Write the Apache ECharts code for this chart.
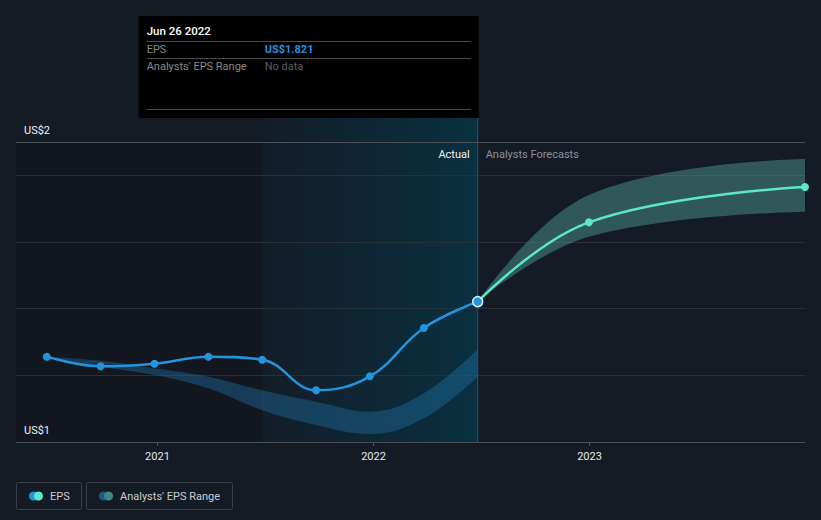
<!DOCTYPE html>
<html><head><meta charset="utf-8">
<script src="https://cdn.jsdelivr.net/npm/echarts@6/dist/echarts.min.js"></script>
<style>html,body{margin:0;padding:0;background:#151b25;}#c{width:821px;height:520px;}</style>
</head><body><div id="c"></div>
<script>
// ---- data ----
const epsDates = ['2020-06-28','2020-09-27','2020-12-27','2021-03-28','2021-06-27','2021-09-26','2021-12-26','2022-03-27','2022-06-26'];
const epsValues = [1.656,1.627,1.635,1.656,1.647,1.555,1.597,1.742,1.821];
const forecastDates = ['2022-06-26','2022-12-31','2023-12-31'];
const forecastValues = [1.821,2.059,2.165];
const pastRangeLow  = [1.656,1.626,1.601,1.561,1.495,1.451,1.424,1.471,1.596];
const pastRangeHigh = [1.656,1.644,1.621,1.596,1.555,1.521,1.491,1.546,1.679];
const forecastRangeLow  = [1.821,2.016,2.091];
const forecastRangeHigh = [1.821,2.141,2.249];
const yMin = 1.4, yMax = 2.3, yInterval = 0.2;
const yTickLabels = {min:'US$1', max:'US$2'};
const xMin = '2020-05-07', xMax = '2023-12-31';
const highlightStart = '2021-06-27';
const tooltipTitle = 'Jun 26 2022';
const legendNames = ['EPS', "Analysts' EPS Range"];

const FONT = 'Roboto, "Noto Sans", sans-serif';
const pair = (d, v) => d.map((x, i) => [x, v[i]]);
const diff = (d, hi, lo) => d.map((x, i) => [x, +(hi[i] - lo[i]).toFixed(4)]);

const chart = echarts.init(document.getElementById('c'), null, {renderer: 'svg'});
const option = {
  backgroundColor: '#151b25',
  animation: false,
  grid: {left: 16, right: 16, top: 142, bottom: 78, containLabel: false},
  xAxis: {
    type: 'time', min: xMin, max: xMax,
    minInterval: 365 * 24 * 3600 * 1000, splitNumber: 3,
    axisLine: {lineStyle: {color: '#4a4f58', width: 1}},
    axisTick: {show: true, length: 4, lineStyle: {color: '#4a4f58'}},
    splitLine: {show: false},
    axisLabel: {color: '#e8e8e8', fontFamily: FONT, fontSize: 11, margin: 9,
      formatter: (v) => String(new Date(v).getFullYear())}
  },
  yAxis: {
    type: 'value', min: yMin, max: yMax, interval: yInterval,
    axisLine: {show: false}, axisTick: {show: false},
    splitLine: {lineStyle: {color: ['#2a2f38','#2a2f38','#2a2f38','#2a2f38','#2a2f38','#4a4f58'], width: 1}},
    axisLabel: {inside: true, margin: 8, verticalAlign: 'bottom', padding: [0,0,6,0],
      color: '#f0f0f0', fontFamily: FONT, fontSize: 11,
      formatter: (v) => Math.abs(v - yMin) < 1e-9 ? yTickLabels.min : (Math.abs(v - yMax) < 1e-9 ? yTickLabels.max : '')}
  },
  series: [
    {name: 'pastLow', type: 'line', stack: 'past', data: pair(epsDates, pastRangeLow), smooth: 0.4,
      symbol: 'none', lineStyle: {width: 0, opacity: 0}, silent: true, z: 1},
    {name: 'pastBand', type: 'line', stack: 'past', data: diff(epsDates, pastRangeHigh, pastRangeLow), smooth: 0.4,
      symbol: 'none', lineStyle: {width: 0, opacity: 0}, areaStyle: {color: 'rgba(33,120,180,0.38)', opacity: 1}, silent: true, z: 1},
    {name: 'fcLow', type: 'line', stack: 'fc', data: pair(forecastDates, forecastRangeLow), smooth: 0.4,
      symbol: 'none', lineStyle: {width: 0, opacity: 0}, silent: true, z: 1},
    {name: 'fcBand', type: 'line', stack: 'fc', data: diff(forecastDates, forecastRangeHigh, forecastRangeLow), smooth: 0.4,
      symbol: 'none', lineStyle: {width: 0, opacity: 0}, areaStyle: {color: 'rgba(90,180,165,0.4)', opacity: 1}, silent: true, z: 1},
    {name: 'EPS forecast', type: 'line', data: forecastDates.map((d, i) => ({value: [d, forecastValues[i]], symbol: i === 0 ? 'none' : 'circle'})),
      smooth: 0.4, symbolSize: 8, showSymbol: true,
      lineStyle: {color: '#5de6cc', width: 2.5}, itemStyle: {color: '#5de6cc'}, z: 3},
    {name: 'EPS', type: 'line', data: epsDates.map((d, i) => {
        const it = {value: [d, epsValues[i]]};
        if (i === epsDates.length - 1) { it.symbolSize = 10; it.itemStyle = {color: '#2394df', borderColor: '#dff0ff', borderWidth: 1.5}; }
        return it; }),
      smooth: 0.4, symbol: 'circle', symbolSize: 8, showSymbol: true,
      lineStyle: {color: '#2394df', width: 2.5}, itemStyle: {color: '#2394df'}, z: 4}
  ]
};
chart.setOption(option);

// ---- overlays positioned via the chart's own scales ----
const px = (d) => chart.convertToPixel({xAxisIndex: 0}, d);
const py = (v) => chart.convertToPixel({yAxisIndex: 0}, v);
const gl = px(xMin), gr = px(xMax), yTop = py(yMax), yBot = py(yMin);
const xHS = px(highlightStart), xNow = px(epsDates[epsDates.length - 1]);
const tipRight = xNow + 1, tipLeft = tipRight - 340, tipTop = 16, tipBottom = 118;
const lastEps = epsValues[epsValues.length - 1];
const F11 = '11px ' + FONT;

const g = [
  {type: 'rect', silent: true, z: -5, shape: {x: gl, y: yTop, width: xHS - gl, height: yBot - yTop},
    style: {fill: 'rgba(0,0,0,0.12)'}},
  {type: 'rect', silent: true, z: -5, shape: {x: xHS, y: tipBottom, width: xNow - xHS, height: yBot - tipBottom},
    style: {fill: {type: 'linear', x: 0, y: 0, x2: 1, y2: 0, colorStops: [
      {offset: 0, color: 'rgba(7,48,64,0.12)'}, {offset: 1, color: 'rgba(7,52,70,0.85)'}]}}},
  {type: 'line', silent: true, z: 2, shape: {x1: xNow, y1: tipBottom, x2: xNow, y2: yBot},
    style: {stroke: '#1d5a72', lineWidth: 1}},
  {type: 'text', silent: true, z: 5, style: {x: xNow - 8, y: yTop + 12, text: 'Actual', align: 'right', verticalAlign: 'middle',
    fill: '#f2f2f2', font: F11}},
  {type: 'text', silent: true, z: 5, style: {x: xNow + 8, y: yTop + 12, text: 'Analysts Forecasts', align: 'left', verticalAlign: 'middle',
    fill: '#8a8e95', font: F11}},
  // tooltip box
  {type: 'rect', silent: true, z: 20, shape: {x: tipLeft, y: tipTop, width: tipRight - tipLeft, height: tipBottom - tipTop},
    style: {fill: '#000000'}},
  {type: 'text', silent: true, z: 21, style: {x: tipLeft + 8, y: 31, text: tooltipTitle, verticalAlign: 'middle', fill: '#ffffff', font: '500 11.5px ' + FONT}},
  {type: 'line', silent: true, z: 21, shape: {x1: tipLeft + 8, y1: 41.5, x2: tipRight - 8, y2: 41.5}, style: {stroke: '#4a4a4a', lineWidth: 1}},
  {type: 'text', silent: true, z: 21, style: {x: tipLeft + 8, y: 49, text: legendNames[0], verticalAlign: 'middle', fill: '#8a8a8a', font: F11}},
  {type: 'text', silent: true, z: 21, style: {x: tipLeft + 126, y: 49, text: 'US$' + lastEps.toFixed(3), verticalAlign: 'middle', fill: '#2394df', font: 'bold 11px ' + FONT}},
  {type: 'line', silent: true, z: 21, shape: {x1: tipLeft + 8, y1: 58.5, x2: tipRight - 8, y2: 58.5}, style: {stroke: '#4a4a4a', lineWidth: 1}},
  {type: 'text', silent: true, z: 21, style: {x: tipLeft + 8, y: 66, text: legendNames[1], verticalAlign: 'middle', fill: '#8a8a8a', font: F11}},
  {type: 'text', silent: true, z: 21, style: {x: tipLeft + 126, y: 66, text: 'No data', verticalAlign: 'middle', fill: '#5e5e5e', font: F11}},
  {type: 'line', silent: true, z: 21, shape: {x1: tipLeft + 8, y1: 109.5, x2: tipRight - 8, y2: 109.5}, style: {stroke: '#4a4a4a', lineWidth: 1}},
  // legend
  {type: 'rect', silent: true, z: 5, shape: {x: 16.5, y: 482.5, width: 65, height: 27, r: 2}, style: {fill: 'none', stroke: '#3b4049', lineWidth: 1}},
  {type: 'circle', silent: true, z: 6, shape: {cx: 33.5, cy: 496, r: 4.5}, style: {fill: '#2394df'}},
  {type: 'circle', silent: true, z: 7, shape: {cx: 38.5, cy: 496, r: 4.5}, style: {fill: '#5de6cc'}},
  {type: 'text', silent: true, z: 6, style: {x: 50, y: 496, text: legendNames[0], verticalAlign: 'middle', fill: '#c8ccd2', font: F11}},
  {type: 'rect', silent: true, z: 5, shape: {x: 86.5, y: 482.5, width: 146, height: 27, r: 2}, style: {fill: 'none', stroke: '#3b4049', lineWidth: 1}},
  {type: 'circle', silent: true, z: 6, shape: {cx: 103.5, cy: 496, r: 4.5}, style: {fill: '#1e5a80'}},
  {type: 'circle', silent: true, z: 7, shape: {cx: 108.5, cy: 496, r: 4.5}, style: {fill: '#3e8a80'}},
  {type: 'text', silent: true, z: 6, style: {x: 120, y: 496, text: legendNames[1], verticalAlign: 'middle', fill: '#c8ccd2', font: F11}}
];
chart.setOption({graphic: g});
</script>
</body></html>
